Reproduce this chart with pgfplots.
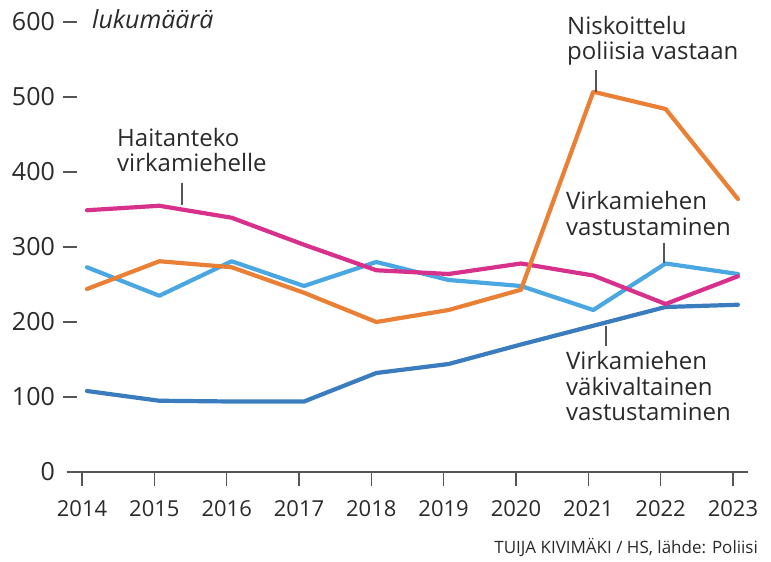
\documentclass[border=0pt]{standalone}
\usepackage{fontspec}
\setmainfont{Open Sans}
\usepackage{pgfplots}
\pgfplotsset{compat=1.18}
\definecolor{cDark}{HTML}{3A7CBE}
\definecolor{cLight}{HTML}{4BA7E2}
\definecolor{cOrange}{HTML}{EA7F36}
\definecolor{cPink}{HTML}{D8318B}
\definecolor{cText}{HTML}{2A2A2A}
\definecolor{cAxis}{HTML}{555555}
\begin{document}
\begin{tikzpicture}
\useasboundingbox (-67bp,-90bp) rectangle (704bp,472bp);
\begin{axis}[
  at={(0,0)}, anchor=south west,
  scale only axis, width=681bp, height=450bp,
  xmin=2013.7235, xmax=2023.139, ymin=0, ymax=600,
  axis x line*=bottom, axis y line*=left,
  y axis line style={draw=none},
  x axis line style={cAxis, line width=1.8bp},
  xtick={2013.931,2014.931,2015.931,2016.931,2017.931,2018.931,2019.931,2020.931,2021.931,2022.931},
  xticklabels={2014,2015,2016,2017,2018,2019,2020,2021,2022,2023},
  ytick={100,200,...,600},
  extra y ticks={0}, extra y tick labels={0},
  extra y tick style={tick style={draw=none}},
  tick align=outside, major tick length=14bp,
  x tick style={cAxis, line width=1.3bp, line cap=butt},
  y tick style={cAxis, line width=1.3bp, line cap=butt, xshift=10bp},
  xticklabel style={anchor=north, inner sep=0pt, yshift=-14bp, font=\fontsize{22bp}{26bp}\selectfont, text=cText},
  yticklabel style={anchor=east, inner sep=0pt, xshift=2bp, font=\fontsize{25bp}{29bp}\selectfont, text=cText},
  /pgf/number format/assume math mode=true,
  /pgf/number format/1000 sep={},
  clip=false,
]
\addplot[cDark, line width=4.2bp, line join=round, line cap=round] coordinates {(2014,108)(2015,95)(2016,94)(2017,94)(2018,132)(2019,144)(2020,170)(2021,195)(2022,220)(2023,223)};
\addplot[cLight, line width=4.2bp, line join=round, line cap=round] coordinates {(2014,273)(2015,235)(2016,281)(2017,248)(2018,280)(2019,256)(2020,248)(2021,216)(2022,278)(2023,264)};
\addplot[cPink, line width=4.2bp, line join=round, line cap=round] coordinates {(2014,349)(2015,355)(2016,339)(2017,303)(2018,269)(2019,264)(2020,278)(2021,262)(2022,224)(2023,261)};
\addplot[cOrange, line width=4.2bp, line join=round, line cap=round] coordinates {(2014,244)(2015,281)(2016,273)(2017,239)(2018,200)(2019,216)(2020,243)(2021,507)(2022,484)(2023,364)};
\end{axis}
\begin{scope}[every node/.style={inner sep=0pt, anchor=base west, text=cText, font=\fontsize{24bp}{28bp}\selectfont}]
\node[font=\fontsize{25bp}{29bp}\selectfont] at (25bp,443bp) {\itshape lukumäärä};
\node at (50bp,325bp) {Haitanteko};
\node at (50bp,300bp) {virkamiehelle};
\node at (500bp,437bp) {Niskoittelu};
\node at (500bp,412bp) {poliisia vastaan};
\node at (499bp,262bp) {Virkamiehen};
\node at (499bp,236bp) {vastustaminen};
\node at (499bp,102bp) {Virkamiehen};
\node at (499bp,76bp) {väkivaltainen};
\node at (499bp,51bp) {vastustaminen};
\node[anchor=base east, font=\fontsize{17bp}{20bp}\selectfont] at (691bp,-81bp) {TUIJA KIVIMÄKI / HS, lähde: Poliisi};
\end{scope}
\begin{scope}[draw=cAxis, line width=1.1bp]
\draw (115bp,289bp) -- (115bp,267bp);
\draw (529bp,402bp) -- (529bp,380bp);
\draw (597bp,229bp) -- (597bp,209bp);
\draw (539bp,146bp) -- (539bp,126bp);
\end{scope}
\end{tikzpicture}
\end{document}
